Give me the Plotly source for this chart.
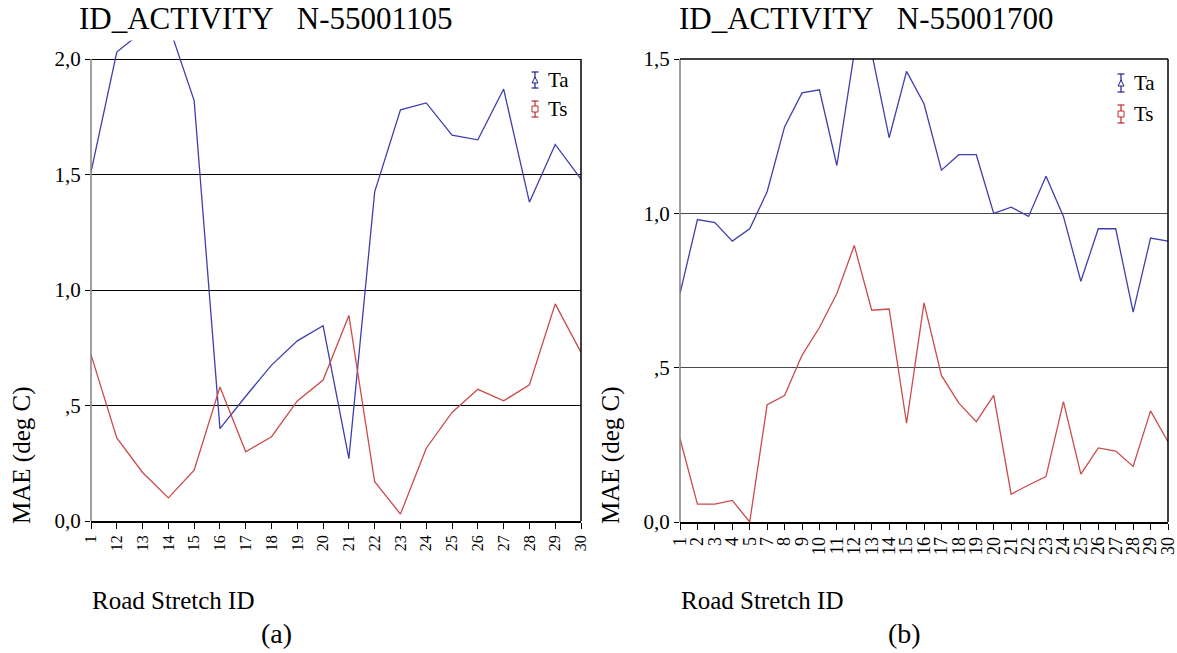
import plotly.graph_objects as go

# ---- data ----
cats_a = ["1", "12", "13", "14", "15", "16", "17", "18", "19", "20", "21", "22", "23", "24", "25", "26", "27", "28", "29", "30"]
ta_a = [1.51, 2.03, 2.12, 2.15, 1.82, 0.40, 0.54, 0.675, 0.78, 0.845, 0.27, 1.425, 1.78, 1.81, 1.67, 1.65, 1.87, 1.38, 1.63, 1.48]
ts_a = [0.72, 0.36, 0.21, 0.10, 0.22, 0.58, 0.30, 0.365, 0.52, 0.61, 0.89, 0.17, 0.03, 0.315, 0.47, 0.57, 0.52, 0.59, 0.94, 0.73]

cats_b = ["1", "2", "3", "4", "5", "7", "8", "9", "10", "11", "12", "13", "14", "15", "16", "17", "18", "19", "20", "21", "22", "23", "24", "25", "26", "27", "28", "29", "30"]
ta_b = [0.74, 0.98, 0.97, 0.91, 0.95, 1.07, 1.28, 1.39, 1.40, 1.155, 1.52, 1.52, 1.245, 1.46, 1.355, 1.14, 1.19, 1.19, 1.00, 1.02, 0.99, 1.12, 0.99, 0.78, 0.95, 0.95, 0.68, 0.92, 0.91]
ts_b = [0.27, 0.058, 0.058, 0.07, 0.0, 0.38, 0.41, 0.54, 0.63, 0.74, 0.896, 0.686, 0.69, 0.32, 0.71, 0.475, 0.385, 0.325, 0.41, 0.09, 0.12, 0.147, 0.39, 0.155, 0.24, 0.23, 0.18, 0.36, 0.26]

yticks_a = [0.0, 0.5, 1.0, 1.5, 2.0]
ylabels_a = ["0,0", ",5", "1,0", "1,5", "2,0"]
yticks_b = [0.0, 0.5, 1.0, 1.5]
ylabels_b = ["0,0", ",5", "1,0", "1,5"]

series_names = ["Ta", "Ts"]
titles = ["ID_ACTIVITY\u00a0\u00a0\u00a0N-55001105", "ID_ACTIVITY\u00a0\u00a0\u00a0N-55001700"]

BLUE = "#3f3fae"
RED = "#cc4a4a"
SYM_BLUE = "#1f1f8a"
SYM_RED = "#c02828"
FONT = "Liberation Serif"

W, H = 1177, 653


def px(x):
    return x / W


def py(y):
    return 1 - y / H


fig = go.Figure()

fig.add_trace(go.Scatter(x=cats_a, y=ta_a, mode="lines", name="Ta", line=dict(color=BLUE, width=1.3),
                         xaxis="x", yaxis="y", showlegend=False))
fig.add_trace(go.Scatter(x=cats_a, y=ts_a, mode="lines", name="Ts", line=dict(color=RED, width=1.3),
                         xaxis="x", yaxis="y", showlegend=False))
fig.add_trace(go.Scatter(x=cats_b, y=ta_b, mode="lines", name="Ta", line=dict(color=BLUE, width=1.3),
                         xaxis="x2", yaxis="y2", showlegend=False))
fig.add_trace(go.Scatter(x=cats_b, y=ts_b, mode="lines", name="Ts", line=dict(color=RED, width=1.3),
                         xaxis="x2", yaxis="y2", showlegend=False))

xa_dom = [px(91), px(581)]
xb_dom = [px(680), px(1168)]
ya_top = 2.08
ya_dom = [py(521), py(521 - ya_top * 231)]
yb_dom = [py(522), py(59)]


def xaxis_cfg(dom, anchor, cats, size):
    return dict(domain=dom, anchor=anchor, type="category", range=[0, len(cats) - 1],
                tickmode="array", tickvals=cats, ticktext=cats,
                tickangle=-90, ticks="outside", ticklen=6, tickcolor="black", tickwidth=1.2,
                tickfont=dict(family=FONT, size=size, color="black"), showgrid=False,
                showline=True, linecolor="black", linewidth=1.5, zeroline=False, automargin=False)


def yaxis_cfg(dom, anchor, rng, vals, labels, gridcolor):
    return dict(domain=dom, anchor=anchor, range=rng, tickmode="array", tickvals=vals, ticktext=labels,
                ticks="outside", ticklen=5, tickcolor="black", tickwidth=1.2,
                tickfont=dict(family=FONT, size=21, color="black"),
                showgrid=True, gridcolor=gridcolor, gridwidth=1.3, zeroline=False, showline=False,
                automargin=False)


fig.update_layout(
    width=W, height=H, margin=dict(l=0, r=0, t=0, b=0, autoexpand=False),
    paper_bgcolor="white", plot_bgcolor="white", showlegend=False,
    xaxis=xaxis_cfg(xa_dom, "y", cats_a, 16),
    yaxis=yaxis_cfg(ya_dom, "x", [0, ya_top], yticks_a, ylabels_a, "black"),
    xaxis2=xaxis_cfg(xb_dom, "y2", cats_b, 18),
    yaxis2=yaxis_cfg(yb_dom, "x2", [0, 1.5], yticks_b, ylabels_b, "#4a4a4a"),
)

shapes = []
# panel a frame: left axis (grey) and right border up to 2.0
shapes.append(dict(type="line", xref="x domain", yref="y", x0=0, x1=0, y0=0, y1=2.0,
                   line=dict(color="#808080", width=1.5)))
shapes.append(dict(type="line", xref="x domain", yref="y", x0=1, x1=1, y0=0, y1=2.0,
                   line=dict(color="black", width=1.5)))
# panel b frame
shapes.append(dict(type="line", xref="x2 domain", yref="y2 domain", x0=0, x1=0, y0=0, y1=1,
                   line=dict(color="#808080", width=1.5)))
shapes.append(dict(type="line", xref="x2 domain", yref="y2 domain", x0=1, x1=1, y0=0, y1=1,
                   line=dict(color="black", width=1.5)))
shapes.append(dict(type="line", xref="x2 domain", yref="y2 domain", x0=0, x1=1, y0=1, y1=1,
                   line=dict(color="black", width=1.5)))


def ibeam(xc, y0, y1, color, kind):
    s = []
    s.append(dict(type="line", xref="paper", yref="paper", x0=px(xc), x1=px(xc), y0=py(y0), y1=py(y1),
                  line=dict(color=color, width=1.2)))
    for yy in (y0, y1):
        s.append(dict(type="line", xref="paper", yref="paper", x0=px(xc - 3.5), x1=px(xc + 3.5),
                      y0=py(yy), y1=py(yy), line=dict(color=color, width=1.2)))
    ym = (y0 + y1) / 2
    if kind == "tri":
        path = f"M {px(xc-3)} {py(ym+3)} L {px(xc+3)} {py(ym+3)} L {px(xc)} {py(ym-3)} Z"
        s.append(dict(type="path", xref="paper", yref="paper", path=path,
                      fillcolor="white", line=dict(color=color, width=1)))
    else:
        s.append(dict(type="rect", xref="paper", yref="paper", x0=px(xc - 3), x1=px(xc + 3),
                      y0=py(ym + 3), y1=py(ym - 3), fillcolor="white", line=dict(color=color, width=1)))
    return s


ann = []
legend_specs = [
    (535, 546, [(72, 88), (101, 117)]),
    (1121, 1132, [(74, 92), (105, 123)]),
]
for xc, xt, spans in legend_specs:
    for (y0, y1), name, col, kind in zip(spans, series_names, [SYM_BLUE, SYM_RED], ["tri", "sq"]):
        shapes += ibeam(xc, y0, y1, col, kind)
        ann.append(dict(text=name, x=px(xt), y=py((y0 + y1) / 2), xref="paper", yref="paper",
                        xanchor="left", yanchor="middle", showarrow=False,
                        font=dict(family=FONT, size=21, color="black")))

fig.update_layout(shapes=shapes)

ann.append(dict(text=titles[0], x=px(77), y=py(18), xref="paper", yref="paper", xanchor="left", yanchor="middle",
                showarrow=False, font=dict(family=FONT, size=31, color="black")))
ann.append(dict(text=titles[1], x=px(677), y=py(18), xref="paper", yref="paper", xanchor="left", yanchor="middle",
                showarrow=False, font=dict(family=FONT, size=31, color="black")))
for xp in [22, 611]:
    ann.append(dict(text="MAE (deg C)", x=px(xp), y=py(456), xref="paper", yref="paper", textangle=-90,
                    xanchor="center", yanchor="middle", showarrow=False,
                    font=dict(family=FONT, size=25, color="black")))
for xp in [90, 679]:
    ann.append(dict(text="Road Stretch ID", x=px(xp), y=py(600), xref="paper", yref="paper",
                    xanchor="left", yanchor="middle", showarrow=False,
                    font=dict(family=FONT, size=25, color="black")))
ann.append(dict(text="(a)", x=px(276), y=py(633), xref="paper", yref="paper", xanchor="center",
                yanchor="middle", showarrow=False, font=dict(family=FONT, size=28, color="black")))
ann.append(dict(text="(b)", x=px(904), y=py(633), xref="paper", yref="paper", xanchor="center",
                yanchor="middle", showarrow=False, font=dict(family=FONT, size=28, color="black")))
fig.update_layout(annotations=ann)

fig.write_html("out.html")
